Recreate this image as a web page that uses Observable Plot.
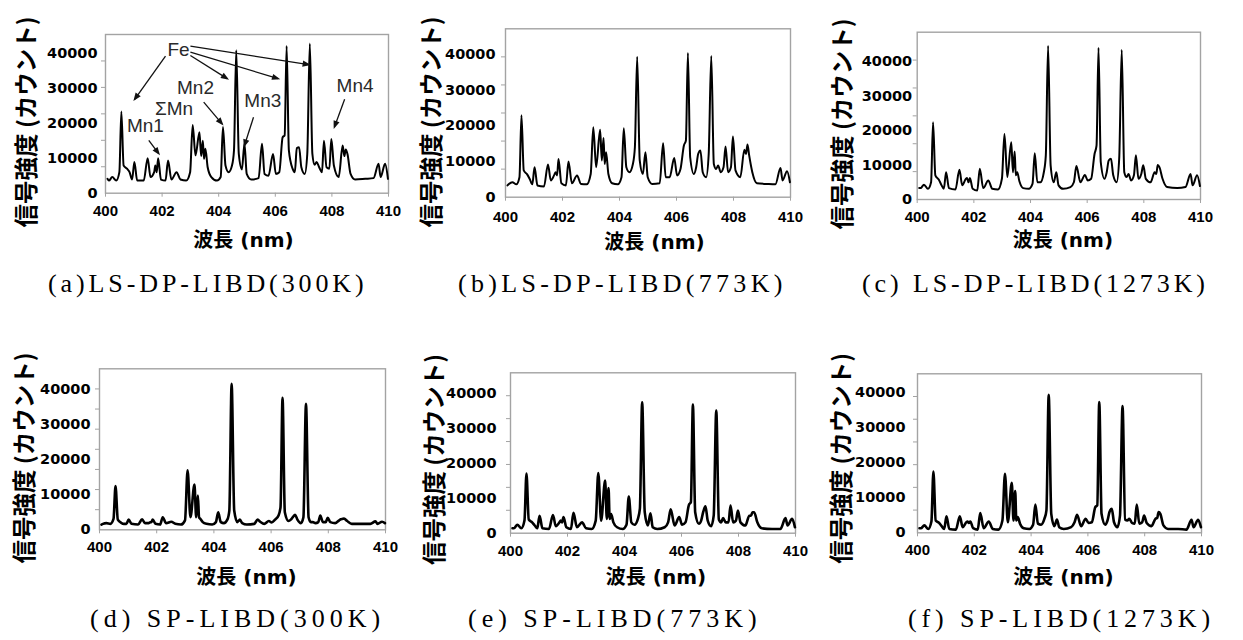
<!DOCTYPE html>
<html><head><meta charset="utf-8">
<script src="https://cdn.jsdelivr.net/npm/d3@7"></script>
<script src="https://cdn.jsdelivr.net/npm/@observablehq/plot@0.6"></script>
<style>
html,body{margin:0;padding:0;background:#fff;}
#root{position:relative;width:1243px;height:640px;overflow:hidden;background:#fff;}
.cell{position:absolute;}
.cell svg{overflow:visible;}
.cap{position:absolute;font-family:"Liberation Serif","Times New Roman",serif;font-size:26px;white-space:nowrap;color:#000;line-height:26px;}
</style></head><body><div id="root"></div>
<script>
// shared wavelength grid (nm)
const wavelength = [400.07,400.12,400.24,400.38,400.49,400.56,400.64,400.76,400.85,400.94,
 401.02,401.12,401.35,401.49,401.59,401.72,401.76,401.81,401.86,401.96,
 402.12,402.21,402.33,402.51,402.65,402.85,402.99,403.08,403.18,403.32,
 403.38,403.44,403.48,403.53,403.61,403.74,403.94,404.07,404.15,404.24,
 404.35,404.47,404.54,404.62,404.71,404.82,404.91,404.99,405.15,405.41,
 405.53,405.62,405.76,405.92,406.02,406.14,406.26,406.33,406.40,406.48,
 406.61,406.69,406.76,406.84,406.92,407.04,407.13,407.22,407.31,407.39,
 407.46,407.55,407.65,407.72,407.81,407.91,407.98,408.07,408.24,408.38,
 408.44,408.49,408.55,408.66,408.82,409.18,409.47,409.65,409.72,409.88,
 409.98];

// intensities (counts)
const lsdp300 = [4100,3600,4600,3600,6000,23300,7900,7000,6000,3900,
 8900,3600,3600,10000,4600,6000,7900,6000,10000,3900,
 3600,9300,3900,6000,3900,3600,6000,19500,10800,17400,
 10600,15000,9800,12700,7400,4600,3600,4600,18900,7900,
 6000,7900,12200,40800,11200,6800,14100,5500,3900,4300,
 14100,5500,5000,11200,5500,6000,16000,16500,42000,12200,
 7000,6000,12900,13100,7400,5500,11200,42700,11200,8100,
 8900,7400,6000,15000,7400,7000,15500,7900,4600,13600,
 10600,12500,11200,5500,3900,4100,4300,8400,4600,8400,
 4100];
const lsdp773 = [3300,3700,4200,3600,5600,23000,7500,6400,5100,3600,
 8400,3300,3000,9200,4700,6400,7000,6100,10700,3900,
 3300,10000,3900,6100,3700,3600,6500,19600,8400,18900,
 10300,16600,9300,12600,6500,3900,3600,5600,19300,8400,
 7000,9300,14000,39400,10300,6500,12600,5600,3700,3900,
 15100,5600,5600,11000,6100,7900,14500,15900,40400,11200,
 6500,8400,12100,13100,7000,5600,12100,39600,9300,7900,
 8900,7000,8400,14200,7000,8400,17000,7500,5600,13300,
 12100,14800,11700,7000,3900,3700,3600,8200,4700,7300,
 4200];
const lsdp1273 = [3300,3300,4300,3100,5000,22400,7000,5800,4300,3100,
 7900,3300,2900,8600,4100,6000,6200,5000,6200,3100,
 2600,8900,3300,5500,3100,2900,6000,19000,6500,16600,
 7900,13900,7000,7900,5200,3300,3100,4500,13400,5000,
 5000,7900,12800,44600,9900,5000,7900,4100,3100,3600,
 5000,9700,5000,7100,5500,6000,13200,15600,44000,10800,
 6000,7900,11300,11800,7000,5000,11800,43400,7900,6500,
 7400,5500,7000,12800,6000,7400,9900,6000,5000,7900,
 7400,10000,9400,6000,3600,3300,3600,7400,4100,7000,
 3900];
const sp300 = [1500,1700,1900,1700,3100,12500,2900,2000,1700,1700,
 2900,1700,1500,3000,1900,1900,2100,2200,2900,1700,
 1500,3600,1900,2300,1700,1500,2700,17000,3600,12900,
 3600,9800,3600,3100,2200,1700,1500,2200,5000,2200,
 1900,2900,5500,41700,5500,2200,2900,1900,1500,1700,
 2900,2300,1700,2500,2100,2900,4100,6500,37700,5000,
 2500,2900,3600,4300,2900,1900,3600,36000,3600,2200,
 2200,1900,2200,4100,2200,2200,3400,2200,1900,2700,
 3000,3100,3200,2500,1700,1700,1700,2400,1700,2300,
 1900];
const sp773 = [1400,1400,2400,1400,3600,17000,3900,3100,2200,1400,
 5000,1400,1200,5200,2000,3100,3600,3100,4600,1700,
 1200,5800,1700,3100,1400,1200,3600,17200,3600,15000,
 4100,12900,4100,5500,3100,1700,1200,2400,10500,3100,
 2400,4100,7000,37400,6000,2200,5700,1700,1200,1700,
 3100,6800,2200,4600,2400,3100,8100,8900,36700,6000,
 2700,3600,6000,7700,3600,2000,5000,35000,3900,3100,
 4300,3100,3100,7900,3100,3600,6500,3100,2200,5000,
 5000,6000,6000,3100,1400,1200,1200,4300,2200,4100,
 1700];
const sp1273 = [1300,1300,2100,1100,3200,17400,3500,2800,1900,1100,
 4700,1100,900,4700,1600,3000,3200,2800,3200,1300,
 900,5600,1300,3200,1100,900,3500,16800,3000,14200,
 3500,11900,3500,4500,2600,1300,1100,2300,8000,2600,
 2300,4000,6400,39200,5400,1900,3800,1600,1100,1600,
 3000,5100,1900,4000,2800,3000,7300,7800,37200,5400,
 2300,3500,5900,6800,3000,1600,4900,36000,3800,3500,
 4000,2800,2600,8000,2600,3000,4900,2800,1900,4000,
 4200,5900,5400,2100,1100,1100,900,3700,1600,3700,
 1600];

// tick labels and titles
const xTicks = [400, 402, 404, 406, 408, 410];
const yTicks = [0, 10000, 20000, 30000, 40000];
const yTitle = "信号強度 (カウント)";
const xTitle = "波長 (nm)";
const captions = ["(a)LS-DP-LIBD(300K)", "(b)LS-DP-LIBD(773K)", "(c) LS-DP-LIBD(1273K)",
                  "(d) SP-LIBD(300K)", "(e) SP-LIBD(773K)", "(f) SP-LIBD(1273K)"];

// annotations of panel (a), in data units
const annoLabels = ["Fe", "Mn1", "ΣMn", "Mn2", "Mn3", "Mn4"];
const annoX = [402.58, 401.41, 402.42, 403.18, 405.56, 408.82];
const annoY = [40800, 19300, 24200, 30100, 26300, 30600];
const arrowX1 = [402.12, 403.00, 403.00, 403.00, 401.53, 403.47, 405.23, 408.45];
const arrowY1 = [39100, 39300, 40300, 42000, 15100, 26000, 21700, 26800];
const arrowX2 = [401.03, 404.30, 406.10, 407.18, 401.88, 404.12, 404.91, 408.09];
const arrowY2 = [26800, 32700, 32700, 36700, 11300, 19800, 13600, 18900];

const series = [lsdp300, lsdp773, lsdp1273, sp300, sp773, sp1273];

// layout per panel: cell [x,y,w,h], frame [L,R,T,B] in page px
const layout = [
 {ymax:45300, divs:6, cell:[0,0,410,262],   frame:[105,388,34,192.7],  yPad:8,  xOff:18,   yT:[78,8],    xT:[-3.5,47.3], sw:2.0, cap:[48,287,3.9]},
 {ymax:47200, divs:6, cell:[410,0,415,262], frame:[505,790,28.3,196.7],yPad:10, xOff:19.3, yT:[73.3,9],  xT:[6.5,45],    sw:2.0, cap:[458,287,4.3]},
 {ymax:48500, divs:6, cell:[828,0,415,262], frame:[916.7,1200,31.7,199],yPad:5, xOff:17,   yT:[73.7,8],  xT:[4,41],      sw:2.0, cap:[862,287,3.9]},
 {ymax:46000, divs:8, cell:[0,330,410,262], frame:[99,385,368.3,529.3],yPad:9,  xOff:17.4, yT:[74,8.7],  xT:[4,47.4],    sw:2.6, cap:[90,622,5.0]},
 {ymax:45800, divs:7, cell:[410,330,415,262],frame:[510,795,372.3,532.7],yPad:14,xOff:17.3,yT:[75,6.5],  xT:[3,44],      sw:2.6, cap:[468,622,5.0]},
 {ymax:45200, divs:7, cell:[828,330,415,262],frame:[917,1201,373.3,532.3],yPad:12,xOff:17,  yT:[75.3,5],  xT:[4,44.4],    sw:2.6, cap:[908,622,4.9]}
];

const root = document.getElementById("root");
const gray = "#a3a3a3";

layout.forEach((L, i) => {
  const [cx, cy, W, H] = L.cell;
  const [fl, fr, ft, fb] = L.frame;
  const rows = wavelength.map((w, j) => ({w, v: series[i][j]}));
  const minor = d3.range(1, L.divs).map(k => L.ymax * k / L.divs);
  const marks = [
    Plot.frame({stroke: gray, strokeWidth: 1.4}),
    Plot.axisY(minor, {tickSize: 4, stroke: gray, fill: "none", label: null}),
    Plot.axisY(yTicks, {tickSize: 0, tickPadding: L.yPad, tickFormat: d => String(d),
      fontFamily: "DejaVu Sans", fontSize: 14.5, fontWeight: "bold", fill: "#000", label: null}),
    Plot.axisX(xTicks, {tickSize: 4, stroke: gray, fill: "none", label: null}),
    Plot.axisX(xTicks, {tickSize: 0, tickPadding: L.xOff - 5.4, tickFormat: d => String(d),
      fontFamily: "Liberation Sans", fontSize: 15, fontWeight: "bold", fill: "#000", label: null}),
    Plot.line(rows, {x: "w", y: "v", stroke: "#000", strokeWidth: L.sw, strokeLinejoin: "round", curve: "monotone-x"}),
    Plot.text([yTitle], {text: d => d, frameAnchor: "left", rotate: -90, dx: -L.yT[0], dy: L.yT[1],
      textAnchor: "middle", lineAnchor: "middle",
      fontFamily: "Noto Sans CJK JP", fontSize: 23.5, fontWeight: "bold", fill: "#000"}),
    Plot.text([xTitle], {text: d => d, frameAnchor: "bottom", dx: L.xT[0], dy: L.xT[1],
      textAnchor: "middle", lineAnchor: "middle",
      fontFamily: "DejaVu Sans, Noto Sans CJK JP", fontSize: 20, fontWeight: "bold", fill: "#000"})
  ];
  if (i === 0) {
    marks.push(
      Plot.link(arrowX1, {x1: arrowX1, y1: arrowY1, x2: arrowX2, y2: arrowY2,
        stroke: "#111", strokeWidth: 1.3, markerEnd: "arrow"}),
      Plot.text(annoLabels, {x: annoX, y: annoY, text: d => d,
        fontFamily: "Liberation Sans", fontSize: 19, fill: "#2a2a2a"})
    );
  }
  const svg = Plot.plot({
    width: W, height: H,
    marginLeft: fl - cx, marginRight: cx + W - fr,
    marginTop: ft - cy, marginBottom: cy + H - fb,
    x: {domain: [400, 410]},
    y: {domain: [0, L.ymax]},
    style: {background: "transparent", overflow: "visible"},
    marks
  });
  svg.querySelectorAll("marker").forEach(m => {
    m.setAttribute("fill", "#111");
    m.setAttribute("stroke", "none");
    m.setAttribute("overflow", "visible");
    const p = m.querySelector("path");
    if (p) p.setAttribute("d", "M-7,-3.6L2.5,0L-7,3.6Z");
  });
  const div = document.createElement("div");
  div.className = "cell";
  div.style.left = cx + "px";
  div.style.top = cy + "px";
  div.appendChild(svg);
  root.appendChild(div);

  const cap = document.createElement("div");
  cap.className = "cap";
  cap.textContent = captions[i];
  cap.style.left = L.cap[0] + "px";
  cap.style.top = (L.cap[1] - 15.7) + "px";
  cap.style.letterSpacing = L.cap[2] + "px";
  root.appendChild(cap);
});
</script>
</body></html>
